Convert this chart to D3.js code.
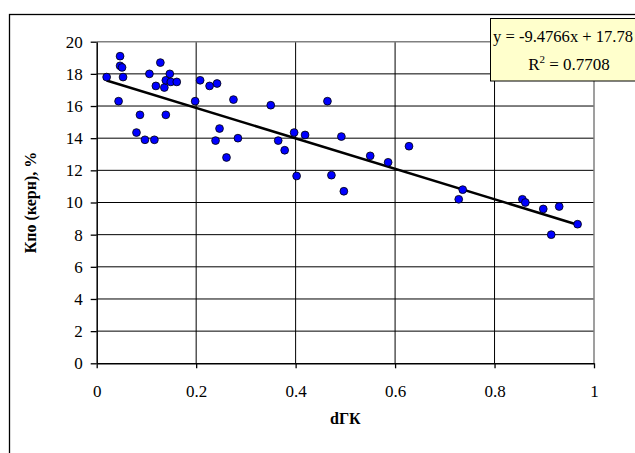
<!DOCTYPE html>
<html>
<head>
<meta charset="utf-8">
<script src="https://cdn.jsdelivr.net/npm/d3@7"></script>
<style>
body { margin: 0; background: #fff; }
svg { display: block; }
svg text { font-family: "Liberation Serif", "Times New Roman", "DejaVu Serif", serif !important; }
</style>
</head>
<body>
<svg id="chart" width="635" height="453" font-family="Liberation Serif, serif"></svg>
<script>
// ---- data ----
const xValues = [0.020, 0.047, 0.047, 0.051, 0.053, 0.044, 0.087, 0.080, 0.097, 0.116,
  0.106, 0.128, 0.119, 0.136, 0.139, 0.147, 0.149, 0.161, 0.139, 0.198,
  0.208, 0.227, 0.242, 0.275, 0.247, 0.239, 0.284, 0.261, 0.350, 0.365,
  0.378, 0.397, 0.419, 0.402, 0.464, 0.492, 0.550, 0.586, 0.628, 0.472,
  0.497, 0.736, 0.728, 0.856, 0.862, 0.898, 0.930, 0.967, 0.914];
const yValues = [17.8, 19.1, 18.5, 18.4, 17.8, 16.3, 15.45, 14.35, 13.9, 13.9,
  18.0, 18.7, 17.25, 17.15, 17.6, 18.0, 17.5, 17.5, 15.45, 16.3,
  17.6, 17.25, 17.4, 16.4, 14.6, 13.85, 14.0, 12.8, 16.05, 13.85,
  13.25, 14.35, 14.2, 11.65, 16.3, 14.1, 12.9, 12.5, 13.5, 11.7,
  10.7, 10.8, 10.2, 10.2, 10.0, 9.6, 9.75, 8.65, 8.0];
const xTicks = [0, 0.2, 0.4, 0.6, 0.8, 1];
const yTicks = [0, 2, 4, 6, 8, 10, 12, 14, 16, 18, 20];
const trendSlope = -9.4766;
const trendIntercept = 17.78;
const equationLabel = "y = -9.4766x + 17.78";
const r2Label = "0.7708";
const xTitle = "dГК";
const yTitle = "Кпо (керн), %";

const points = xValues.map((x, i) => ({x, y: yValues[i]}));

const svg = d3.select("#chart");
const FS = 17;
const SERIF = '"Liberation Serif", "Times New Roman", serif';

// chart frame
svg.append("rect").attr("x", 9.5).attr("y", 14.5).attr("width", 660).attr("height", 470)
  .attr("fill", "#fff").attr("stroke", "#000").attr("stroke-width", 1.3);

const x = d3.scaleLinear().domain([0, 1]).range([96.7, 594]);
const y = d3.scaleLinear().domain([0, 20]).range([363.3, 41.7]);

// gridlines
svg.append("g").selectAll("line").data(yTicks.filter(d => d > 0 && d < 20)).join("line")
  .attr("x1", x(0)).attr("x2", x(1)).attr("y1", d => y(d)).attr("y2", d => y(d))
  .attr("stroke", "#000").attr("stroke-width", 1);
svg.append("g").selectAll("line").data(xTicks.filter(d => d > 0 && d < 1)).join("line")
  .attr("y1", y(0)).attr("y2", y(20)).attr("x1", d => x(d)).attr("x2", d => x(d))
  .attr("stroke", "#000").attr("stroke-width", 1);

// plot area border top/right (gray)
svg.append("path")
  .attr("d", `M${x(0)},${y(20)}H${x(1)}V${y(0)}`)
  .attr("fill", "none").attr("stroke", "#808080").attr("stroke-width", 1.5);

// axes
const yAxis = svg.append("g").attr("transform", `translate(${x(0)},0)`)
  .call(d3.axisLeft(y).tickValues(yTicks).tickFormat(d3.format("d")).tickSize(6).tickPadding(8).tickSizeOuter(0));
const xAxis = svg.append("g").attr("transform", `translate(0,${y(0)})`)
  .call(d3.axisBottom(x).tickValues(xTicks).tickFormat(d => d === 0 || d === 1 ? d3.format("d")(d) : d3.format(".1f")(d)).tickSize(5).tickPadding(17).tickSizeOuter(0));
[yAxis, xAxis].forEach(g => {
  g.attr("font-family", SERIF).attr("font-size", FS);
  g.select(".domain").attr("stroke", "#000").attr("stroke-width", 1.5);
  g.selectAll(".tick line").attr("stroke", "#000").attr("stroke-width", 1.3);
  g.selectAll(".tick text").attr("fill", "#000").attr("font-family", SERIF).attr("font-size", FS);
});

// trendline
const ext = d3.extent(xValues);
const line = d3.line().x(d => x(d[0])).y(d => y(d[1]));
svg.append("path").datum(ext.map(v => [v, trendIntercept + trendSlope * v]))
  .attr("d", line).attr("stroke", "#000").attr("stroke-width", 2.5).attr("fill", "none");

// points
svg.append("g").selectAll("circle").data(points).join("circle")
  .attr("cx", d => x(d.x)).attr("cy", d => y(d.y)).attr("r", 3.9)
  .attr("fill", "#0000FF").attr("stroke", "#000").attr("stroke-width", 0.8);

// equation box
svg.append("rect").attr("x", 490.5).attr("y", 18.5).attr("width", 158).attr("height", 62.5)
  .attr("fill", "#FFFFCC").attr("stroke", "#000").attr("stroke-width", 1);
svg.append("text").attr("x", 493).attr("y", 42).attr("font-family", SERIF).attr("font-size", 16)
  .attr("textLength", 140).attr("lengthAdjust", "spacingAndGlyphs").text(equationLabel);
const r2 = svg.append("text").attr("x", 569).attr("y", 70).attr("text-anchor", "middle")
  .attr("font-family", SERIF).attr("font-size", FS);
r2.append("tspan").text("R");
r2.append("tspan").attr("dy", -7).attr("font-size", 11).text("2");
r2.append("tspan").attr("dy", 7).text(" = " + r2Label);

// axis titles
svg.append("text").attr("x", (x(0) + x(1)) / 2).attr("y", 424).attr("text-anchor", "middle")
  .attr("font-family", SERIF).attr("font-size", 16).attr("font-weight", "bold").text(xTitle);
svg.append("text").attr("transform", `translate(36,${(y(0) + y(20)) / 2}) rotate(-90)`)
  .attr("text-anchor", "middle").attr("font-family", SERIF).attr("font-size", 16)
  .attr("font-weight", "bold").text(yTitle);
</script>
</body>
</html>
